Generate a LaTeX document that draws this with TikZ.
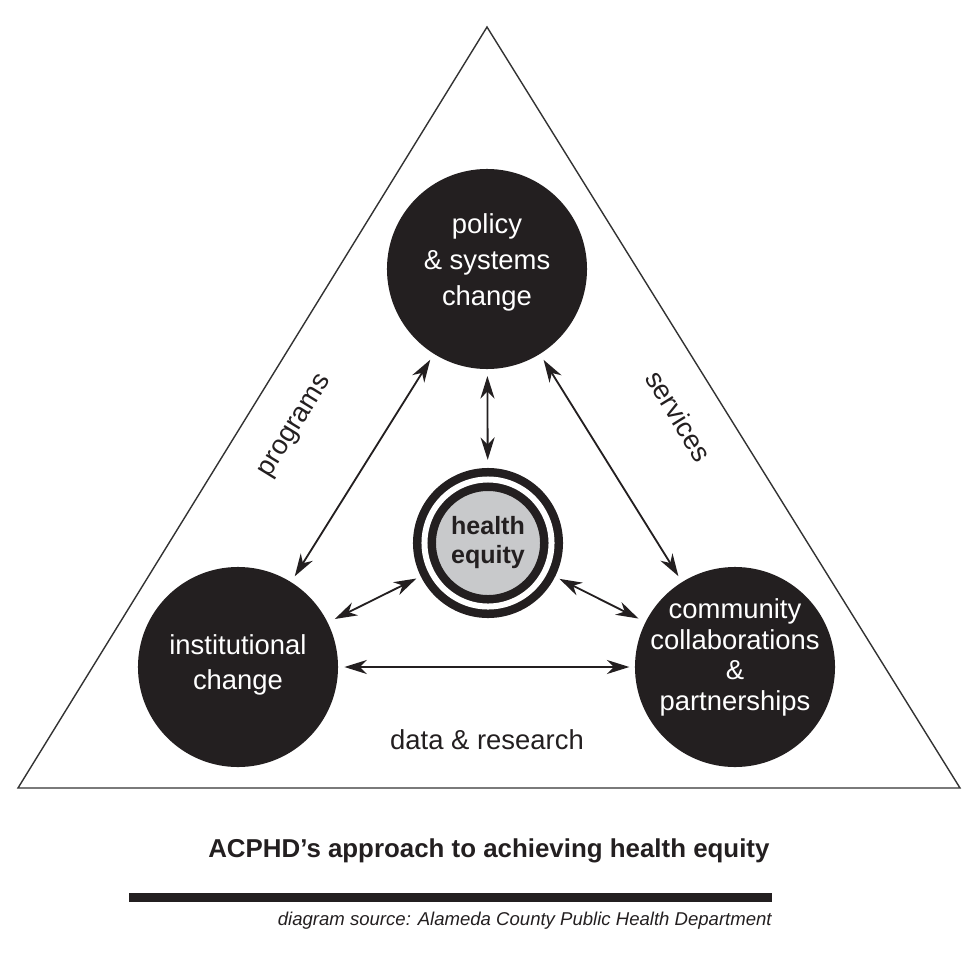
\documentclass[tikz,border=0pt]{standalone}
\usepackage{fontspec}
\setmainfont{Liberation Sans}
\usepackage{xcolor}
\usepackage{tikz}
\usetikzlibrary{arrows.meta, positioning, calc}
\definecolor{inkblack}{HTML}{231F20}
\definecolor{equitygray}{HTML}{C8C9CB}

\begin{document}
\begin{tikzpicture}[
    x=0.025cm, y=-0.025cm,
    font=\fontsize{19.5}{25.4}\selectfont,
    bigdot/.style={circle, fill=inkblack, minimum size=5cm, inner sep=0pt, outer sep=0pt},
    dottext/.style={text=white, align=center},
    equitydot/.style={circle, fill=equitygray, draw=inkblack, line width=0.2125cm, double=white, double distance=0.15cm, minimum size=3.175cm, inner sep=0pt, outer sep=0pt},
    sidelabel/.style={text=inkblack},
    twoway/.style={{Stealth[length=16pt, width=10pt, inset=5pt]}-{Stealth[length=16pt, width=10pt, inset=5pt]}, line width=1.3pt, color=inkblack},
    gap/.style 2 args={shorten <=#1, shorten >=#2}
]
\useasboundingbox (0,0) rectangle (975,967);

% === TRIANGLE ===
\draw[line width=1pt, color=black!80] (487,27) -- (960,788) -- (18,788) -- cycle;

% === CIRCLES ===
\node[bigdot] (policy) at (487,269) {};
\node[bigdot] (institution) at (238,667) {};
\node[bigdot] (community) at (735,667) {};
\node[equitydot] (equity) at (488,543) {};

\node[dottext] (policytxt) at ([yshift=0.16cm]policy.center) {policy\\\& systems\\change};
\node[dottext] (institutiontxt) at ([yshift=0.05cm]institution.center) {institutional\\change};
\node[dottext, font=\fontsize{19.5}{21.8}\selectfont] (communitytxt) at ([yshift=0.24cm]community.center) {community\\collaborations\\\&\\partnerships};
\node[text=inkblack, align=center, font=\fontsize{17.8}{20.6}\selectfont\bfseries] (equitytxt) at (equity.center) {health\\equity};

% === ARROWS ===
\draw[twoway, gap={0.175cm}{0.175cm}] (policy) -- (institution);
\draw[twoway, gap={0.175cm}{0.175cm}] (policy) -- (community);
\draw[twoway, gap={0.175cm}{0.49cm}] (policy) -- (equity);
\draw[twoway, gap={0.2cm}{0.41cm}] (institution) -- (equity);
\draw[twoway, gap={0.41cm}{0.2cm}] (equity) -- (community);
\draw[twoway, gap={0.16cm}{0.14cm}] (institution) -- (community);

% === SIDE LABELS ===
\node[sidelabel, rotate=58.4] (programs) at (296,427) {programs};
\node[sidelabel, rotate=-58.4] (services) at (679,416) {services};
\node[sidelabel] (research) at (487,740) {data \& research};

% === CAPTION ===
\node[anchor=base west, inner sep=0pt, text=inkblack, font=\fontsize{18.4}{22}\selectfont\bfseries] (title) at (208,857) {ACPHD's approach to achieving health equity};
\fill[inkblack] (129,893) rectangle (772,902);
\node[anchor=base east, inner sep=0pt, text=inkblack, font=\fontsize{13.2}{16}\selectfont\itshape] (source) at (772,925) {diagram source: Alameda County Public Health Department};

\end{tikzpicture}
\end{document}
